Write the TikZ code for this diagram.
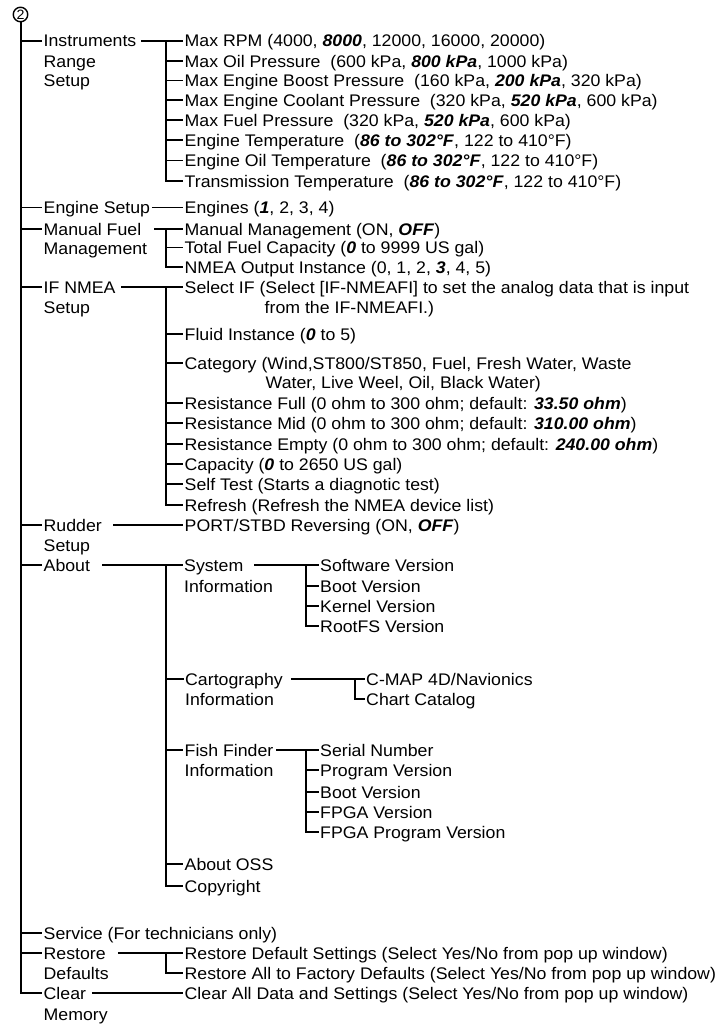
\documentclass[tikz,border=0pt]{standalone}
\usepackage{fontspec}
\setmainfont{Liberation Sans}[FakeStretch=1.055]
\newcommand{\bi}[1]{\textbf{\textit{#1}}}
\begin{document}
\begin{tikzpicture}[x=1pt,y=-1pt,
  lbl/.style={anchor=west, inner sep=0pt, text height=12pt, text depth=0pt,
    font=\fontsize{16.8}{19.8}\selectfont},
  ln/.style={line width=1.5pt},
  trunk/.style={line width=2pt},
  circ/.style={circle, draw, line width=1.4pt, inner sep=0pt, minimum size=14.5pt,
    font=\fontsize{13.5}{13.5}\selectfont}]
\useasboundingbox (0,0) rectangle (720,1025);
% columns
\coordinate (tk) at (20.5,0);
\coordinate (bA) at (166,0);
\coordinate (bB) at (306,0);
\coordinate (bC) at (355,0);
% root
\node[circ] (root) at (20.5,14.5) {2};
% level 1
\node[lbl] (instr)   at (43.5,41)   {Instruments};
\node[lbl] (instrb)  at (43.5,61)   {Range};
\node[lbl] (instrc)  at (43.5,80.5) {Setup};
\node[lbl] (engset)  at (43.5,207.7){Engine Setup};
\node[lbl] (manfuel) at (43.5,229)  {Manual Fuel};
\node[lbl] (manfuelb)at (43.5,248)  {Management};
\node[lbl] (ifnmea)  at (43.5,287)  {IF NMEA};
\node[lbl] (ifnmeab) at (43.5,307)  {Setup};
\node[lbl] (rudder)  at (43.5,525)  {Rudder};
\node[lbl] (rudderb) at (43.5,545)  {Setup};
\node[lbl] (about)   at (43.5,565)  {About};
\node[lbl] (service) at (43.5,933)  {Service (For technicians only)};
\node[lbl] (restore) at (43.5,953)  {Restore};
\node[lbl] (restoreb)at (43.5,973)  {Defaults};
\node[lbl] (clear)   at (43.5,993)  {Clear};
\node[lbl] (clearb)  at (43.5,1014) {Memory};
% level 2
\node[lbl] (r1) at (184.5,41)    {Max RPM (4000, \bi{8000}, 12000, 16000, 20000)};
\node[lbl] (r2) at (184.5,61)    {Max Oil Pressure\ \ (600 kPa, \bi{800 kPa}, 1000 kPa)};
\node[lbl] (r3) at (184.5,80.5)  {Max Engine Boost Pressure\ \ (160 kPa, \bi{200 kPa}, 320 kPa)};
\node[lbl] (r4) at (184.5,100)   {Max Engine Coolant Pressure\ \ (320 kPa, \bi{520 kPa}, 600 kPa)};
\node[lbl] (r5) at (184.5,120)   {Max Fuel Pressure\ \ (320 kPa, \bi{520 kPa}, 600 kPa)};
\node[lbl] (r6) at (184.5,140)   {Engine Temperature\ \ (\bi{86 to 302°F}, 122 to 410°F)};
\node[lbl] (r7) at (184.5,160.5) {Engine Oil Temperature\ \ (\bi{86 to 302°F}, 122 to 410°F)};
\node[lbl] (r8) at (184.5,181)   {Transmission Temperature\ \ (\bi{86 to 302°F}, 122 to 410°F)};
\node[lbl] (eng) at (184.5,207.7) {Engines (\bi{1}, 2, 3, 4)};
\node[lbl] (m1) at (184.5,229)   {Manual Management (ON, \bi{OFF})};
\node[lbl] (m2) at (184.5,247.5) {Total Fuel Capacity (\bi{0} to 9999 US gal)};
\node[lbl] (m3) at (184.5,267)   {NMEA Output Instance (0, 1, 2, \bi{3}, 4, 5)};
\node[lbl] (f1) at (184.5,287)   {Select IF (Select [IF-NMEAFI] to set the analog data that is input};
\node[lbl] (f1b) at (264.5,307)  {from the IF-NMEAFI.)};
\node[lbl] (f2) at (184.5,334)   {Fluid Instance (\bi{0} to 5)};
\node[lbl] (f3) at (184.5,363)   {Category (Wind,ST800/ST850, Fuel, Fresh Water, Waste};
\node[lbl] (f3b) at (265.5,382)  {Water, Live Weel, Oil, Black Water)};
\node[lbl] (f4) at (184.5,403)   {Resistance Full (0 ohm to 300 ohm; default: \bi{33.50 ohm})};
\node[lbl] (f5) at (184.5,423)   {Resistance Mid (0 ohm to 300 ohm; default: \bi{310.00 ohm})};
\node[lbl] (f6) at (184.5,444)   {Resistance Empty (0 ohm to 300 ohm; default: \bi{240.00 ohm})};
\node[lbl] (f7) at (184.5,464)   {Capacity (\bi{0} to 2650 US gal)};
\node[lbl] (f8) at (184.5,484)   {Self Test (Starts a diagnotic test)};
\node[lbl] (f9) at (184.5,505)   {Refresh (Refresh the NMEA device list)};
\node[lbl] (rud1) at (184.5,525) {PORT/STBD Reversing (ON, \bi{OFF})};
\node[lbl] (sys)  at (184,565)   {System};
\node[lbl] (sysb) at (184,586)   {Information};
\node[lbl] (carto)  at (185,679) {Cartography};
\node[lbl] (cartob) at (185,699) {Information};
\node[lbl] (fish)  at (184.5,750) {Fish Finder};
\node[lbl] (fishb) at (184.5,770) {Information};
\node[lbl] (oss)  at (184.5,864) {About OSS};
\node[lbl] (copy) at (184.5,886) {Copyright};
\node[lbl] (rs1) at (184.5,953)  {Restore Default Settings (Select Yes/No from pop up window)};
\node[lbl] (rs2) at (184.5,973)  {Restore All to Factory Defaults (Select Yes/No from pop up window)};
\node[lbl] (cl1) at (184.5,993)  {Clear All Data and Settings (Select Yes/No from pop up window)};
% level 3
\node[lbl] (s1) at (320,565) {Software Version};
\node[lbl] (s2) at (320,586) {Boot Version};
\node[lbl] (s3) at (320,606) {Kernel Version};
\node[lbl] (s4) at (320,626) {RootFS Version};
\node[lbl] (c1) at (366,679) {C-MAP 4D/Navionics};
\node[lbl] (c2) at (366,699) {Chart Catalog};
\node[lbl] (ff1) at (320,750) {Serial Number};
\node[lbl] (ff2) at (320,770) {Program Version};
\node[lbl] (ff3) at (320,792) {Boot Version};
\node[lbl] (ff4) at (320,812) {FPGA Version};
\node[lbl] (ff5) at (320,832) {FPGA Program Version};
% trunk
\draw[trunk] (root.south) |- ([xshift=-1.5pt]clear.west);
\foreach \n in {instr,engset,manfuel,ifnmea,rudder,about,service,restore}
  \draw[ln] (tk |- \n.west) -- ([xshift=-1.5pt]\n.west);
% level 1 -> level 2
\draw[ln] ([xshift=5pt]instr.east) -- ([xshift=-1.5pt]r1.west);
\draw[ln] (bA |- r1.west) |- ([xshift=-1.5pt]r8.west);
\foreach \n in {r2,r3,r4,r5,r6,r7}
  \draw[ln] (bA |- \n.west) -- ([xshift=-1.5pt]\n.west);
\draw[ln] ([xshift=1.5pt]engset.east) -- ([xshift=-1.5pt]eng.west);
\draw[ln] ([xshift=13pt]manfuel.east) -- ([xshift=-1.5pt]m1.west);
\draw[ln] (bA |- m1.west) |- ([xshift=-1.5pt]m3.west);
\draw[ln] (bA |- m2.west) -- ([xshift=-1.5pt]m2.west);
\draw[ln] ([xshift=5.5pt]ifnmea.east) -- ([xshift=-1.5pt]f1.west);
\draw[ln] (bA |- f1.west) |- ([xshift=-1.5pt]f9.west);
\foreach \n in {f2,f3,f4,f5,f6,f7,f8}
  \draw[ln] (bA |- \n.west) -- ([xshift=-1.5pt]\n.west);
\draw[ln] ([xshift=11pt]rudder.east) -- ([xshift=-1.5pt]rud1.west);
\draw[ln] ([xshift=12pt]about.east) -- ([xshift=-1.5pt]sys.west);
\draw[ln] (bA |- sys.west) |- ([xshift=-1.5pt]copy.west);
\foreach \n in {carto,fish,oss}
  \draw[ln] (bA |- \n.west) -- ([xshift=-1.5pt]\n.west);
\draw[ln] ([xshift=12pt]restore.east) -- ([xshift=-1.5pt]rs1.west);
\draw[ln] (bA |- rs1.west) |- ([xshift=-1.5pt]rs2.west);
\draw[ln] ([xshift=5.5pt]clear.east) -- ([xshift=-1.5pt]cl1.west);
% level 2 -> level 3
\draw[ln] ([xshift=11pt]sys.east) -- ([xshift=-1.5pt]s1.west);
\draw[ln] (bB |- s1.west) |- ([xshift=-1.5pt]s4.west);
\foreach \n in {s2,s3}
  \draw[ln] (bB |- \n.west) -- ([xshift=-1.5pt]\n.west);
\draw[ln] ([xshift=8pt]carto.east) -- ([xshift=-1.5pt]c1.west);
\draw[ln] (bC |- c1.west) |- ([xshift=-1.5pt]c2.west);
\draw[ln] ([xshift=2.5pt]fish.east) -- ([xshift=-1.5pt]ff1.west);
\draw[ln] (bB |- ff1.west) |- ([xshift=-1.5pt]ff5.west);
\foreach \n in {ff2,ff3,ff4}
  \draw[ln] (bB |- \n.west) -- ([xshift=-1.5pt]\n.west);
\end{tikzpicture}
\end{document}
